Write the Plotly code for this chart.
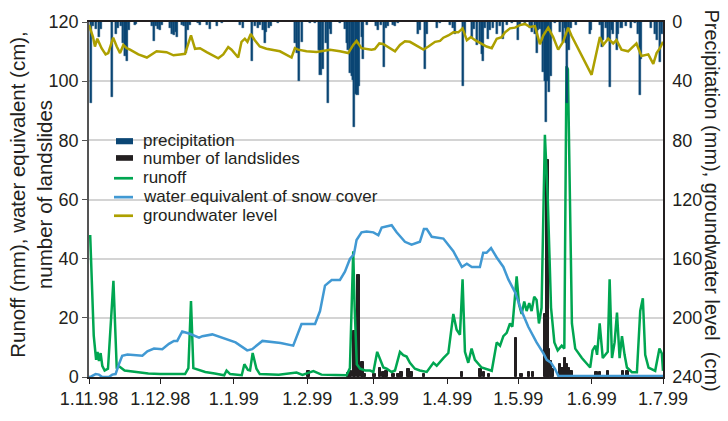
import pandas as pd
import plotly.graph_objects as go

START = pd.Timestamp("1998-11-01")

# ---------------- data (days after 1.11.98) ----------------
precip_day = [0.8, 1.7, 3.1, 4.1, 4.9, 9.8, 11.2, 12.3, 13.4, 14.3, 15.0, 15.7, 16.2, 16.8, 19.2, 19.9,
              26.4, 27.5, 28.2, 28.9, 29.9, 30.6, 34.1, 35.1, 35.9, 36.5, 37.1, 39.0, 39.9, 40.7, 41.6,
              42.6, 46.1, 46.8, 49.6, 51.0, 53.8, 55.9, 63.6, 65.0, 68.9, 69.9, 71.1, 72.0, 73.4, 74.1,
              74.8, 75.8, 76.9, 79.8, 86.8, 87.8, 88.6, 90.0, 93.1, 95.2, 96.9, 97.6, 98.7, 100.1, 100.8,
              101.5, 102.2, 105.8, 107.9, 108.6, 109.3, 110.0, 110.7, 111.4, 111.8, 112.5, 113.2, 113.9,
              114.9, 115.6, 117.0, 121.2, 121.9, 123.3, 124.3, 125.2, 126.2, 128.3, 129.0, 130.4, 138.9,
              139.5, 141.7, 142.4, 146.6, 148.0, 152.2, 153.3, 154.3, 157.5, 158.5, 161.3, 162.2, 163.4,
              164.8, 165.5, 166.2, 166.9, 168.3, 169.1, 170.5, 171.9, 173.3, 174.7, 176.1, 178.2, 180.7,
              181.7, 183.8, 185.9, 186.9, 188.0, 188.7, 189.4, 190.1, 190.8, 191.5, 192.2, 192.6, 193.3,
              193.9, 194.7, 196.4, 198.5, 199.9, 200.6, 201.3, 201.7, 202.4, 203.4, 205.5, 211.1, 211.8,
              215.4, 216.1, 216.8, 217.9, 218.9, 219.6, 220.3, 221.0, 222.4, 223.1, 224.5, 226.6, 228.7,
              230.1, 231.5, 232.2, 232.9, 237.1, 238.5, 239.6, 240.6, 241.7]
precip_mm = [55, 2.8, 4.9, 10.2, 4.9, 50.6, 8.1, 3.8, 2.8, 14.5, 23, 17, 26.2, 5.5, 2, 1.5,
             2.8, 12.8, 2.8, 5, 5.5, 1.7, 3.8, 8.1, 9.1, 7, 10.2, 1.7, 2.8, 20.9, 5.5,
             1.7, 1, 1.7, 1.7, 4.9, 2.8, 1, 1.7, 3.8, 26.2, 2.8, 3.8, 1.7, 5.5, 14.5,
             7, 3.8, 2.8, 1, 14.5, 20.9, 40, 13.4, 1, 1, 18.7, 35.7, 31.5, 14.5, 54.9,
             4.9, 8.1, 1, 4.9, 14.5, 18.7, 34.7, 36.8, 38.9, 70.8, 48.5, 49.6, 43.2,
             10.2, 25.1, 1.7, 2.8, 5.5, 1.7, 30.4, 3.8, 2.8, 1.7, 2.8, 1, 8.1,
             5.5, 31.5, 8.1, 3.8, 1, 1.7, 3.8, 8.1, 43.2, 8.1, 10.2, 4.9, 15.5,
             13.4, 21.9, 26.2, 3.8, 11.3, 5.5, 3.8, 8.1, 2.8, 11.3, 1.7, 1, 12.3,
             1.7, 1, 3.8, 7, 8.1, 20.9, 5.5, 4.9, 14.5, 33.6, 40, 67.6, 40,
             47.4, 36.8, 1, 7, 13.4, 3.8, 14.5, 54.9, 18.7, 3.8, 1.7, 8.1, 5.5,
             1.7, 16.6, 12.3, 3.8, 11.3, 44.2, 5.5, 8.1, 18.7, 8.1, 3.8, 2.8, 3.8,
             1, 8.1, 49.6, 25.1, 3.8, 8.1, 12.3, 27.2, 8.1]

slide_day = [92.6, 109.5, 110.5, 112.0, 113.7, 115.2, 116.4, 120.3, 122.7, 124.1, 125.5, 128.3, 130.4,
             131.8, 134.6, 136.0, 141.3, 157.3, 165.0, 166.5, 168.6, 180.0, 182.3, 185.5, 187.2,
             192.2, 193.2, 194.0, 194.8, 195.6, 198.5, 199.6, 200.6, 201.6, 202.4, 203.4, 205.0,
             213.9, 215.5, 218.8, 225.2, 227.0]
slide_n = [2.1, 1.5, 2, 15.5, 34.5, 5.2, 1, 1, 3.2, 1.6, 2.1, 1, 1,
           1.6, 2.7, 1.6, 1, 1.6, 2.7, 1.6, 1, 13.3, 1, 1.6, 1.6,
           21.3, 73.4, 9.6, 5.3, 2.7, 4.3, 3.2, 6.4, 4.3, 3.2, 2.1, 0.5,
           1.6, 1.6, 2.1, 2.1, 2]

runoff_day = [0.5, 2.0, 3.0, 3.6, 4.2, 4.9, 5.6, 6.6, 8.0, 10.3, 11.7, 12.4, 15.0, 19.4, 25.0, 30.0,
              35.0, 40.5, 41.9, 43.0, 44.0, 49.0, 53.0, 57.0, 58.0, 59.5, 64.4, 65.5, 67.0, 67.9,
              69.0, 70.6, 72.0, 80.0, 87.5, 90.0, 94.6, 98.0, 104.0, 108.6, 110.0, 111.4, 112.0,
              112.9, 114.3, 116.4, 118.5, 119.9, 121.5, 122.7, 124.1, 125.5, 127.6, 129.0, 131.1,
              132.5, 133.9, 135.3, 137.4, 139.5, 142.4, 145.2, 146.6, 149.4, 151.5, 153.6, 155.0,
              156.4, 157.5, 158.5, 159.9, 161.3, 162.7, 165.5, 169.8, 171.9, 173.3, 174.7, 176.1,
              177.5, 178.5, 179.3, 180.3, 181.3, 182.4, 183.5, 184.5, 185.6, 186.6, 187.7, 188.7,
              189.7, 190.8, 192.2, 193.4, 194.8, 196.2, 197.6, 199.3, 200.4, 201.3, 201.9, 203.6,
              205.0, 207.8, 211.3, 212.3, 213.5, 214.2, 215.3, 216.6, 217.7, 218.7, 219.5, 220.5,
              221.6, 222.6, 223.7, 224.7, 225.8, 226.8, 228.9, 231.0, 232.4, 233.5, 234.5, 235.9,
              238.7, 240.5, 241.5, 242.0]
runoff_mm = [48, 14, 5.8, 8.5, 5.4, 8.1, 3.8, 2.2, 2.8, 32.5, 2.8, 3.8, 2.2, 1.7, 1.2, 1.0,
             0.9, 1.0, 3.0, 25.7, 3.0, 1.7, 1.2, 0.6, 2.2, 1.0, 0.6, 4.3, 2.4, 2.2,
             8.1, 2.8, 1.0, 0.8, 1.5, 0.7, 2.0, 0.8, 0.7, 0.6, 3.0, 42.5, 23.4,
             4.3, 2.8, 2.2, 2.2, 1.7, 8.5, 5.9, 3.2, 2.8, 1.7, 2.2, 8.5,
             7.4, 6.9, 4.8, 2.8, 2.2, 1.7, 4.8, 3.8, 6.4, 8.1, 21.3, 16,
             14.3, 33, 8.5, 4.8, 9.6, 5.8, 3.2, 2.1, 11.7, 10.6, 13.8, 14.9,
             18.1, 17, 24.5, 34, 24.5, 21.3, 25.5, 22.3, 25, 22.3, 27.1, 26,
             18.1, 23.4, 81.9, 60.6, 23.4, 11.7, 9.0, 10.6, 9.6, 105, 104, 18.1,
             9.6, 6.4, 3.2, 9, 10.6, 7.5, 18.1, 6.4, 7.5, 8.5, 33, 6.4,
             11.7, 21.8, 6.4, 13.8, 7.5, 3.2, 1.6, 1.6, 22.3, 26.6, 7.5, 3.2,
             2.1, 9.6, 8, 2.1]

snow_day = [0, 1, 2.8, 4.2, 5.6, 8.4, 9.8, 11.2, 12.6, 14, 16.2, 22.5, 24.6, 27.4, 30.9, 33.7, 35.8,
            37.2, 39.3, 42.2, 46.4, 47.8, 52, 56.9, 61.8, 66.7, 68.8, 73.1, 80.8, 86.1, 89.6, 95.3,
            97.4, 99.5, 102.3, 105.8, 107.9, 110, 111.7, 112.8, 114.9, 117, 119.9, 122, 123.4,
            127.6, 129.7, 133.2, 136, 139.5, 141.2, 142.4, 144.5, 149.4, 153.6, 157.2, 159.3,
            161.4, 164.8, 166.2, 167.6, 169.5, 171.9, 174.7, 176.8, 179.6, 182.4, 185.2, 188.7,
            191.6, 193, 194.8, 196.5, 197.9, 242]
snow_cm = [0, 0.2, 1, 0.8, 0, 0, 0.8, 1, 4.3, 7.2, 7.6, 7.2, 8.7, 9.6, 9.4, 11.2, 12.2,
           12.2, 15.4, 14.7, 13.3, 13.8, 14.4, 13, 11.7, 9.0, 9.4, 12.2, 11.5, 10.6, 17.9, 17.9,
           22.3, 30.9, 32.8, 32.8, 35.6, 39.9, 41.5, 46.3, 48.9, 49.2, 48.9, 47.9, 50.5,
           51.3, 48.9, 45.7, 44.7, 45.7, 50, 50, 47.4, 46.8, 42.5, 37.2, 38.3,
           37.2, 37.2, 42, 42, 43.6, 40.4, 37.2, 33, 28.7, 22.3, 17, 11.7,
           8, 5.8, 4.8, 2.7, 0.3, 0.3]

gw_day = [0, 1.7, 2.5, 3.5, 5.3, 7, 8.1, 10.2, 11.7, 13.1, 14.5, 15.9, 17.3, 20.8, 24.4, 26.4, 28.5,
          32.7, 35.6, 38.4, 40.5, 41.9, 43, 44.7, 46.8, 49.6, 54.5, 56.6, 58.7, 60.1, 62.9, 64.3,
          65.7, 66.8, 68.2, 69.9, 72, 74.8, 80.5, 85.4, 86.8, 88.2, 91.7, 95.9, 101.6, 105.8,
          109.3, 111.4, 112.8, 114.9, 119.1, 120.5, 122.4, 124, 126.2, 129, 131.1, 133.2, 135.3,
          137.4, 141, 143.1, 145.9, 148, 149.4, 151.5, 153.6, 155.7, 157.5, 159.3, 161, 162.8,
          165.5, 167.6, 169.8, 171.9, 174, 175.4, 177.5, 179.6, 181.7, 183.8, 185.9, 188, 190.1,
          191.5, 193.6, 195.7, 197.8, 199.9, 202, 203.4, 211.9, 215.4, 216.8, 218.9, 221, 222.4,
          224.5, 227.3, 230.8, 232.9, 235.8, 237.9, 239.3, 240.7, 242]
gw_cm = [2, 10.2, 16.6, 11.3, 17.7, 21.9, 21, 10.6, 16.6, 21, 15.5, 17.7, 18.7, 21.9, 24, 21.9, 19.8,
         20.4, 22.5, 21.9, 21.5, 14.5, 9.1, 18.1, 17.7, 20.4, 24.5, 21.9, 17, 18.7, 24, 13.4,
         11.3, 13.4, 8.1, 12.3, 16.6, 18.1, 19.8, 24, 17.7, 18.7, 19.8, 20.2, 18.7, 19.8,
         21, 15.5, 12.8, 17.7, 18.7, 18.3, 14.5, 14.9, 17, 19.8, 15.5, 13, 13.4,
         15.5, 18.7, 16.6, 13.4, 12.8, 10.6, 9.1, 7, 7, 4.3, 12.3, 10.2, 12.3,
         14.5, 16.6, 17.7, 11.3, 10.2, 7, 4.3, 3.8, 2.1, 1.3, 3.4, 2.8, 15,
         9.1, 3.8, 10.2, 18.7, 13.4, 3.8, 9.1, 35.7, 10.2, 15.5, 11.3, 14.5, 12.3,
         18.7, 19.8, 14.5, 23, 21.9, 28.3, 21, 17.7, 13.4]

tick_dates = ["1998-11-01", "1998-12-01", "1999-01-01", "1999-02-01", "1999-03-01",
              "1999-04-01", "1999-05-01", "1999-06-01", "1999-07-01"]
tick_text = ["1.11.98", "1.12.98", "1.1.99", "1.2.99", "1.3.99", "1.4.99", "1.5.99", "1.6.99", "1.7.99"]

legend_names = ["precipitation", "number of landslides", "runoff",
                "water equivalent of snow cover", "groundwater level"]

# ---------------- styles ----------------
C_PRECIP = "#0b4674"
C_SLIDE = "#231f20"
C_RUNOFF = "#00a651"
C_SNOW = "#4199d3"
C_GW = "#ada000"
FONT = "Liberation Sans, Arial, Helvetica, sans-serif"
TXT = "#231f20"
DAY_MS = 86400000


def to_dates(days):
    return [START + pd.Timedelta(days=d) for d in days]


fig = go.Figure()
fig.add_trace(go.Bar(x=to_dates(slide_day), y=slide_n, width=1.1 * DAY_MS, marker_color=C_SLIDE,
                     marker_line=dict(width=1, color=C_SLIDE), name=legend_names[1], yaxis="y"))
fig.add_trace(go.Scatter(x=to_dates(runoff_day), y=runoff_mm, mode="lines", name=legend_names[2],
                         line=dict(color=C_RUNOFF, width=2.5), yaxis="y"))
fig.add_trace(go.Scatter(x=to_dates(snow_day), y=snow_cm, mode="lines", name=legend_names[3],
                         line=dict(color=C_SNOW, width=2.5), yaxis="y"))
fig.add_trace(go.Bar(x=to_dates(precip_day), y=precip_mm, width=0.85 * DAY_MS, marker_color=C_PRECIP,
                     marker_line=dict(width=0.4, color=C_PRECIP), name=legend_names[0], yaxis="y2"))
fig.add_trace(go.Scatter(x=to_dates(gw_day), y=gw_cm, mode="lines", name=legend_names[4],
                         line=dict(color=C_GW, width=2.5), yaxis="y2"))

# plot area: x 89..663, y 14..390 (px)
L, R, T, B = 89, 663, 14, 390
W, H = R - L, B - T


def px(xp):
    return (xp - L) / W


def py(yp):
    return (B - yp) / H


shapes = [
    # white masks behind the legend (cover grid lines only)
    dict(type="rect", xref="paper", yref="paper", x0=px(103), x1=px(290), y0=py(146), y1=py(132),
         fillcolor="white", line_width=0, layer="between"),
    dict(type="rect", xref="paper", yref="paper", x0=px(103), x1=px(420), y0=py(209), y1=py(195),
         fillcolor="white", line_width=0, layer="between"),
]
# manual legend symbols
leg_y = [139.5, 158.5, 179.5, 199.5, 219.2]
shapes.append(dict(type="rect", xref="paper", yref="paper", x0=px(116), x1=px(133),
                   y0=py(143.5), y1=py(137), fillcolor=C_PRECIP, line_width=0))
shapes.append(dict(type="rect", xref="paper", yref="paper", x0=px(116), x1=px(133),
                   y0=py(161), y1=py(155), fillcolor=C_SLIDE, line_width=0))
for yy, col in zip(leg_y[2:], [C_RUNOFF, C_SNOW, C_GW]):
    shapes.append(dict(type="line", xref="paper", yref="paper", x0=px(114), x1=px(133),
                       y0=py(yy), y1=py(yy), line=dict(color=col, width=2.7)))

annotations = []
for name, yy in zip(legend_names, [139, 159, 179, 199, 219]):
    annotations.append(dict(text=name, xref="paper", yref="paper", x=px(141), y=py(yy),
                            xanchor="left", yanchor="middle", showarrow=False,
                            font=dict(size=17, color=TXT, family=FONT)))
annotations.append(dict(text="Runoff (mm), water equivalent (cm),<br>number of landslides",
                        xref="paper", yref="paper", x=px(31), y=py(197), textangle=-90,
                        xanchor="center", yanchor="middle", showarrow=False,
                        font=dict(size=20.5, color=TXT, family=FONT)))
annotations.append(dict(text="Precipitation (mm), groundwater level\u00a0 (cm)",
                        xref="paper", yref="paper", x=px(712), y=py(203), textangle=90,
                        xanchor="center", yanchor="middle", showarrow=False,
                        font=dict(size=20, color=TXT, family=FONT)))

fig.update_layout(
    width=728, height=421,
    margin=dict(l=L, r=728 - R, t=T, b=421 - B, pad=0),
    paper_bgcolor="white", plot_bgcolor="white",
    showlegend=False, barmode="overlay", bargap=0,
    font=dict(family=FONT, size=18, color=TXT),
    xaxis=dict(type="date", range=["1998-11-01", "1999-07-01"], tickvals=tick_dates, ticktext=tick_text,
               ticks="outside", ticklen=5, tickcolor="#231f20", showgrid=False, zeroline=False,
               showline=True, linecolor="#231f20", linewidth=1.5, mirror=True,
               tickfont=dict(size=18, color=TXT)),
    yaxis=dict(range=[0, 120], tickvals=[0, 20, 40, 60, 80, 100, 120], ticks="outside", ticklen=5,
               tickcolor="#555", showgrid=True, gridcolor="#d4d4d4", gridwidth=1.5, zeroline=False,
               showline=True, linecolor="#555", linewidth=1.5, tickfont=dict(size=18, color=TXT)),
    yaxis2=dict(range=[240, 0], overlaying="y", side="right", tickvals=[0, 40, 80, 120, 160, 200, 240],
                ticks="outside", ticklen=4, tickcolor="rgba(0,0,0,0)", showgrid=False, zeroline=False,
                showline=True, linecolor="#231f20", linewidth=1.5, tickfont=dict(size=18, color=TXT)),
    shapes=shapes,
    annotations=annotations,
)

fig.write_html("out.html")
